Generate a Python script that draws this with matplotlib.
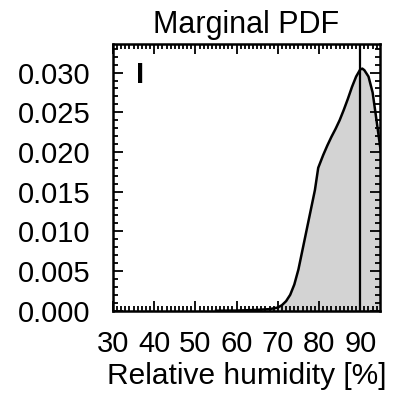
import matplotlib
matplotlib.use("Agg")
import matplotlib.pyplot as plt
from matplotlib.ticker import MultipleLocator

# Relative humidity [%] and marginal PDF
rh = [55, 60, 65, 68, 70, 71, 72, 73, 74, 75, 76, 77, 78, 79, 79.8,
      81, 82, 83, 84, 85, 86, 87, 88, 89, 90, 90.5, 91, 92, 93, 94, 95]
pdf = [0.0, 0.00002, 0.0001, 0.0002, 0.0004, 0.0007, 0.0012, 0.0020,
       0.0033, 0.0052, 0.0077, 0.0102, 0.0127, 0.0152, 0.0180,
       0.0196, 0.0208, 0.0219, 0.0229, 0.0240, 0.0253, 0.0267, 0.0282,
       0.0295, 0.0304, 0.0305, 0.0303, 0.0295, 0.0275, 0.0238, 0.0200]
obs_rh = 90
x_ticks = [30, 40, 50, 60, 70, 80, 90]
y_ticks = [0.000, 0.005, 0.010, 0.015, 0.020, 0.025, 0.030]

plt.rcParams["font.family"] = ["Liberation Sans", "DejaVu Sans"]

fig = plt.figure(figsize=(3.93, 3.93), dpi=100)
ax = fig.add_axes([0.2875, 0.2094, 0.6795, 0.6786])

ax.fill_between(rh, pdf, 0, color="#d3d3d3", lw=0)
ax.plot(rh, pdf, color="black", lw=1.8)
ax.axvline(obs_rh, color="black", lw=1.6)

ax.set_xlim(30, 94.8)
ax.set_ylim(0, 0.0336)
ax.set_xticks(x_ticks)
ax.set_yticks(y_ticks)
ax.set_yticklabels([f"{v:.3f}" for v in y_ticks])
ax.xaxis.set_minor_locator(MultipleLocator(1))
ax.yaxis.set_minor_locator(MultipleLocator(0.001))
ax.tick_params(which="both", direction="in", top=True, right=True,
               width=1.3, labelsize=21, colors="black")
ax.tick_params(which="major", length=7)
ax.tick_params(which="minor", length=3.5)
ax.tick_params(axis="y", which="major", pad=16)
ax.tick_params(axis="x", which="major", pad=14)
for s in ax.spines.values():
    s.set_linewidth(1.8)

ax.text(0.088, 0.935, "I", transform=ax.transAxes, fontsize=21,
        fontweight="bold", va="top", ha="left")
ax.set_title("Marginal PDF", fontsize=22, pad=8)
ax.set_xlabel("Relative humidity [%]", fontsize=21.5, labelpad=3)

fig.savefig("out.png", dpi=100)
